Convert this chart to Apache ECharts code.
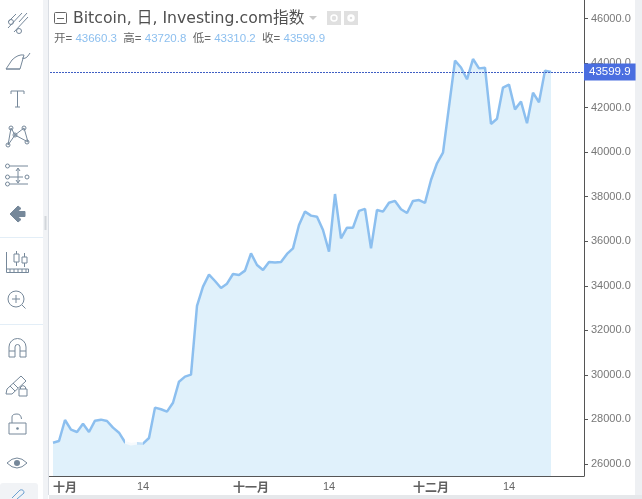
<!DOCTYPE html>
<html><head><meta charset="utf-8">
<style>html,body{margin:0;padding:0;background:#fff}#c{width:642px;height:499px}</style>
<script src="https://cdn.jsdelivr.net/npm/echarts@6/dist/echarts.min.js"></script>
</head><body><div id="c"></div>
<script>
const dayLabels = ['29','30','十月','2','3','4','5','6','7','8','9','10','11','12','13','14','15','16','17','18','19','20','21','22','23','24','25','26','27','28','29','30','31','十一月','2','3','4','5','6','7','8','9','10','11','12','13','14','15','16','17','18','19','20','21','22','23','24','25','26','27','28','29','30','十二月','2','3','4','5','6','7','8','9','10','11','12','13','14','15','16','17','18','19','20','21','22','23','24','25','26'];
const shownLabels = ['十月','14','十一月','十二月'];
const closeValues = [26956,27030,27975,27540,27437,27810,27437,27944,27990,27930,27630,27405,26975,26884,26930,26910,27167,28530,28455,28350,28750,29695,29920,30010,33093,33960,34500,34215,33900,34095,34530,34485,34680,35455,34935,34710,35070,35040,35070,35430,35680,36730,37330,37150,37100,36505,35530,38120,36130,36610,36610,37360,37450,35680,37400,37330,37730,37810,37435,37270,37810,37850,37720,38750,39500,39975,42040,44110,43800,43270,44180,43760,43790,41265,41500,42900,43030,41920,42270,41295,42670,42240,43660,43599.9];
const priceTicks = [26000,28000,30000,32000,34000,36000,38000,40000,42000,44000,46000];
const lastPrice = 43599.9;
const ohlc = ['43660.3','43720.8','43310.2','43599.9'];

const chart = echarts.init(document.getElementById('c'), null, {renderer:'canvas'});
const ic = '#7688 9a'.replace(' ','');
let iconCount = 0;
const icon = (d,style)=>{
  const name = 'toolIcon'+(iconCount++);
  echarts.graphic.registerShape(name, echarts.graphic.extendPath(d,{}));
  return {type:name,style:Object.assign({stroke:ic,fill:'none',lineWidth:1},style||{}),z:10,silent:true};
};
const circ = (cx,cy,r)=>`M${cx+r} ${cy}A${r} ${r} 0 1 1 ${cx-r} ${cy}A${r} ${r} 0 1 1 ${cx+r} ${cy}Z`;
const rect = (x,y,w,h,fill,z,r)=>({type:'rect',shape:{x,y,width:w,height:h,r:r||0},style:{fill},z:z||1,silent:true});
const line = (a,b,c,d,col)=>({type:'line',shape:{x1:a,y1:b,x2:c,y2:d},style:{stroke:col,lineWidth:1},z:2,silent:true});

const graphics = [
  rect(0,0,43,499,'#ffffff'),
  rect(43,0,5,499,'#f1f3f6'),
  rect(48,0,1,495,'#d9dde3'),
  rect(49,495,593,4,'#e6e8eb'),
  rect(635,0,7,495,'#eef0f3'),
  rect(44.5,216,2,14,'#d2d6db',3),
  line(0,237.5,43,237.5,'#e3eef7'),
  line(0,324.5,43,324.5,'#e3eef7'),
  rect(0,483,38,20,'#f1f3f6',1,3),
  rect(49,476,1,1,'#555555',3),
  icon(`M8 28L22 13M14 32L28 17M19 22L27 13M8 22L16 14`+circ(11,22,2.5)+circ(19,31,2.5)),
  icon(`M6 69L12 60Q18 54 24 55L20 69ZM6 69H20M22 58Q26 60 30 53`),
  icon(`M11 91H24M17.5 91V107M15 107H20M11 91V94M24 91V94`),
  icon(`M8 145L11 128M11 128L15 135L24 128L28 142L15 135L8 145`+circ(11,128,2)+circ(24,128,2)+circ(15,135,2)+circ(8,145,2)+circ(27,142,2)),
  icon(`M10 166H28M10 177H23M10 184H28M18 169V182M16 171L18 168L20 171M16 180L18 183L20 180`+circ(7.5,166,2)+circ(7.5,177,2)+circ(7.5,184,2)+circ(27,177,2)),
  icon('M10 214L18 206L21 208.5L17.5 211.5H25V216.5H17.5L21 219.5L18 222Z',{fill:ic,stroke:ic}),
  icon(`M6.5 252V272.5H28.5V269H6.5M10 269V272.5M14 269V272.5M18 269V272.5M22 269V272.5M26 269V272.5M14 254H19V262H14ZM16.5 251V254M16.5 262V266M22 257H27V263H22ZM24.5 253V257M24.5 263V267`),
  icon(circ(16,299,8)+`M12 299H20M16 295V303M22 305L25.5 308.5`),
  icon(`M9 357V347A8.5 8.5 0 0 1 26 347V357H20V347A2.5 2.5 0 0 0 15 347V357ZM9 351H15M20 351H26`),
  icon(`M7 389L21 376L26 381L12 394L6 394ZM10 386L15 391M13 383L18 388M19 396V389H27V396ZM20.5 389V387Q23 384 25.5 387V389`),
  icon(`M9 423H26V434H9ZM12 423V417Q12 414 17 414Q21 414 21.5 419`),
  {type:'circle',shape:{cx:17.5,cy:428.5,r:1.3},style:{fill:ic},z:10,silent:true},
  icon(`M7 463Q17 453 27 463Q17 473 7 463Z`),
  {type:'circle',shape:{cx:17,cy:463,r:3},style:{fill:ic},z:10,silent:true},
  icon(`M12 498L20 490Q24 489 24 493L17 499`,{stroke:'#6b9fd0'}),
  {type:'rect',shape:{x:54.5,y:12.5,width:12,height:11,r:1},style:{fill:'none',stroke:'#666',lineWidth:1},z:10,silent:true},
  line(57,18.5,64,18.5,'#666'),
  {type:'polygon',shape:{points:[[309,16],[317,16],[313,20]]},style:{fill:'#c9c9c9'},z:10,silent:true},
  rect(327,11,14,14,'#e0e0e0',9),
  rect(344,11,14,14,'#e0e0e0',9),
  {type:'circle',shape:{cx:334,cy:18,r:3},style:{fill:'none',stroke:'#fff',lineWidth:1.5},z:10,silent:true},
  {type:'circle',shape:{cx:351,cy:18,r:2.5},style:{fill:'none',stroke:'#fff',lineWidth:2.5},z:10,silent:true}
];

const ohlcText = ['开','高','低','收'].map((k,i)=>`{k|${k}=} {v|${ohlc[i]}}`).join('  ');
const subFont = '"Liberation Sans","Noto Sans CJK SC"';

chart.setOption({
  animation:false,
  backgroundColor:'#ffffff',
  title:[{
    left:73, top:11, padding:0,
    text:'Bitcoin, 日, Investing.com指数',
    textStyle:{fontFamily:'"DejaVu Sans","Noto Sans CJK SC"',fontSize:15.7,fontWeight:'normal',color:'#505050'}
  },{
    left:54, top:33, padding:0,
    text:ohlcText,
    textStyle:{fontFamily:subFont,fontSize:11.5,fontWeight:'normal',
      rich:{k:{color:'#666666',fontSize:11.5,fontFamily:subFont},v:{color:'#8cbfef',fontSize:11.5,fontFamily:subFont}}}
  }],
  grid:{left:50,right:58,top:0,height:476,containLabel:false},
  xAxis:{
    type:'category',data:dayLabels,boundaryGap:true,
    axisLine:{lineStyle:{color:'#555555',width:1}},
    axisTick:{alignWithLabel:true,length:3,lineStyle:{color:'#555555'},
      interval:(i,v)=>shownLabels.includes(v)},
    axisLabel:{margin:5,fontSize:11,fontFamily:'"Liberation Sans"',color:'#666666',
      interval:(i,v)=>shownLabels.includes(v),
      formatter:v=>v==='14'?v:`{m|${v}}`,
      rich:{m:{fontSize:12,fontWeight:'bold',color:'#606060',fontFamily:'"Noto Sans CJK SC"'}}},
    splitLine:{show:false}
  },
  yAxis:{
    type:'value',position:'right',min:25460,max:46830,
    axisLine:{show:true,lineStyle:{color:'#555555',width:1}},
    axisTick:{show:true,length:4,inside:false,lineStyle:{color:'#555555'},customValues:priceTicks},
    axisLabel:{margin:7,fontSize:11,fontFamily:'"Liberation Sans"',color:'#777777',customValues:priceTicks,
      formatter:v=>v.toFixed(1)},
    splitLine:{show:false}
  },
  visualMap:{show:false,type:'piecewise',dimension:0,seriesIndex:0,
    pieces:[{lt:12,color:'#8cbfef'},{gte:12,lt:12.4,color:'#f0b050'},{gte:12.4,lt:13.6,color:'#f6fafd'},{gte:13.6,lte:15,color:'#c4e0f7'},{gt:15,color:'#8cbfef'}]},
  series:[{
    type:'line',data:closeValues,symbol:'none',smooth:false,
    lineStyle:{width:2.5},
    areaStyle:{color:'#e0f1fb',opacity:1,origin:'start'},
    silent:true,
    markLine:{
      silent:true,symbol:'none',animation:false,
      lineStyle:{type:[2,1],color:'#3f5fc4',width:1},
      label:{position:'end',formatter:lastPrice.toFixed(1),color:'#ffffff',backgroundColor:'#4a6ee0',
        fontSize:11.5,fontFamily:'"Liberation Sans"',padding:[3,5,2,5],distance:0},
      data:[{yAxis:lastPrice}]
    }
  }],
  graphic:{elements:graphics}
});
</script></body></html>
